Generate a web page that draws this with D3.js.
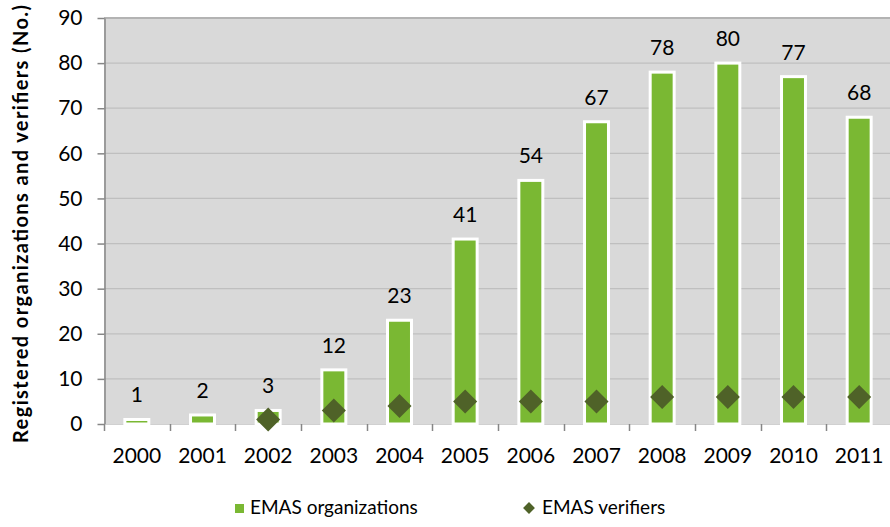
<!DOCTYPE html>
<html>
<head>
<meta charset="utf-8">
<script src="https://d3js.org/d3.v7.min.js"></script>
<style>
    html, body { margin: 0; padding: 0; background: #fff; }
    .chart { width: 890px; height: 527px; }
    text { font-family: Lato, "Open Sans", sans-serif; fill: #000; }
</style>
</head>
<body>
<div class="chart"></div>
<script>
    /* adatok */
    const years = ['2000', '2001', '2002', '2003', '2004', '2005', '2006', '2007', '2008', '2009', '2010', '2011'];
    const organizations = [1, 2, 3, 12, 23, 41, 54, 67, 78, 80, 77, 68];
    const verifiers = [null, null, 1, 3, 4, 5, 5, 5, 6, 6, 6, 6];
    const yTicks = [0, 10, 20, 30, 40, 50, 60, 70, 80, 90];

    const width = 890;
    const height = 527;
    const margin = { top: 18, left: 104, right: -2, bottom: 103 };

    const svg = d3.select('.chart').append('svg')
        .attr('width', width)
        .attr('height', height);

    const x = d3.scaleBand().domain(years).range([margin.left, width - margin.right]).padding(0);
    const y = d3.scaleLinear().domain([0, 90]).range([height - margin.bottom, margin.top]);

    /* háttér */
    svg.append('rect')
        .attr('x', margin.left)
        .attr('y', margin.top)
        .attr('width', width - margin.left)
        .attr('height', y(0) - margin.top)
        .attr('fill', '#d9d9d9');

    /* rácsvonalak */
    svg.append('g').selectAll('line').data(yTicks.slice(1)).enter().append('line')
        .attr('x1', margin.left).attr('x2', width)
        .attr('y1', function (d) { return y(d); })
        .attr('y2', function (d) { return y(d); })
        .attr('stroke', function (d) { return d === 90 ? '#b3b3b3' : '#bfbfbf'; })
        .attr('stroke-width', function (d) { return d === 90 ? 2 : 1.2; });

    /* y tengely */
    const yAxis = svg.append('g')
        .attr('transform', 'translate(' + (margin.left + 0.5) + ',0)')
        .call(d3.axisLeft(y).tickValues(yTicks).tickSize(7).tickPadding(15).tickSizeOuter(0));
    yAxis.select('.domain').attr('stroke', '#868686').attr('stroke-width', 1.5);
    yAxis.selectAll('.tick line').attr('stroke', '#868686').attr('stroke-width', 1.5);
    yAxis.selectAll('.tick text')
        .style('font-size', '21px')
        .attr('fill', '#000')
        .attr('font-family', 'Lato, sans-serif');

    /* x tengely */
    const xAxis = svg.append('g')
        .attr('transform', 'translate(0,' + y(0) + ')');
    xAxis.append('line')
        .attr('x1', margin.left).attr('x2', width)
        .attr('y1', 0.5).attr('y2', 0.5)
        .attr('stroke', '#d0d0d0');
    xAxis.selectAll('.xtick').data(years).enter().append('line')
        .attr('x1', function (d) { return Math.round(x(d)) + 0.5; })
        .attr('x2', function (d) { return Math.round(x(d)) + 0.5; })
        .attr('y1', 0).attr('y2', 7)
        .attr('stroke', '#868686').attr('stroke-width', 1.5);
    xAxis.selectAll('.xlabel').data(years).enter().append('text')
        .text(function (d) { return d; })
        .attr('x', function (d) { return x(d) + x.bandwidth() / 2; })
        .attr('y', 39)
        .attr('text-anchor', 'middle')
        .style('font-size', '21px');

    /* oszlopok */
    const barW = x.bandwidth() * 0.365;
    svg.append('g').selectAll('rect').data(organizations).enter().append('rect')
        .attr('x', function (d, i) { return x(years[i]) + x.bandwidth() / 2 - barW / 2; })
        .attr('y', function (d) { return y(d); })
        .attr('width', barW)
        .attr('height', function (d) { return y(0) - y(d); })
        .attr('fill', '#7ab833')
        .attr('stroke', '#fff')
        .attr('stroke-width', 3);

    /* értékfeliratok */
    svg.append('g').selectAll('text').data(organizations).enter().append('text')
        .text(function (d) { return d; })
        .attr('x', function (d, i) { return x(years[i]) + x.bandwidth() / 2; })
        .attr('y', function (d) { return y(d) - 17; })
        .attr('text-anchor', 'middle')
        .style('font-size', '21px');

    /* hitelesítők */
    const diamond = d3.symbol().type(d3.symbolSquare).size(290);
    svg.append('g').selectAll('path').data(verifiers.map(function (v, i) { return { year: years[i], value: v }; })
        .filter(function (d) { return d.value !== null; }))
        .enter().append('path')
        .attr('d', diamond)
        .attr('transform', function (d) {
            return 'translate(' + (x(d.year) + x.bandwidth() / 2) + ',' + y(d.value) + ') rotate(45)';
        })
        .attr('fill', '#4f6228');

    /* tengelycím */
    svg.append('text')
        .text('Registered organizations and verifiers (No.)')
        .attr('transform', 'translate(28,224) rotate(-90)')
        .attr('text-anchor', 'middle')
        .attr('textLength', 438)
        .attr('lengthAdjust', 'spacing')
        .style('font-size', '20px')
        .style('font-weight', 700);

    /* jelmagyarázat */
    const legend = svg.append('g').attr('transform', 'translate(0,514)');
    legend.append('rect')
        .attr('x', 235).attr('y', -10).attr('width', 9).attr('height', 9)
        .attr('fill', '#7ab833');
    legend.append('text').text('EMAS organizations')
        .attr('x', 250).attr('y', 0)
        .style('font-size', '19px');
    legend.append('path')
        .attr('d', d3.symbol().type(d3.symbolSquare).size(70))
        .attr('transform', 'translate(529,-6) rotate(45)')
        .attr('fill', '#4f6228');
    legend.append('text').text('EMAS verifiers')
        .attr('x', 542).attr('y', 0)
        .style('font-size', '19px');
</script>
</body>
</html>
